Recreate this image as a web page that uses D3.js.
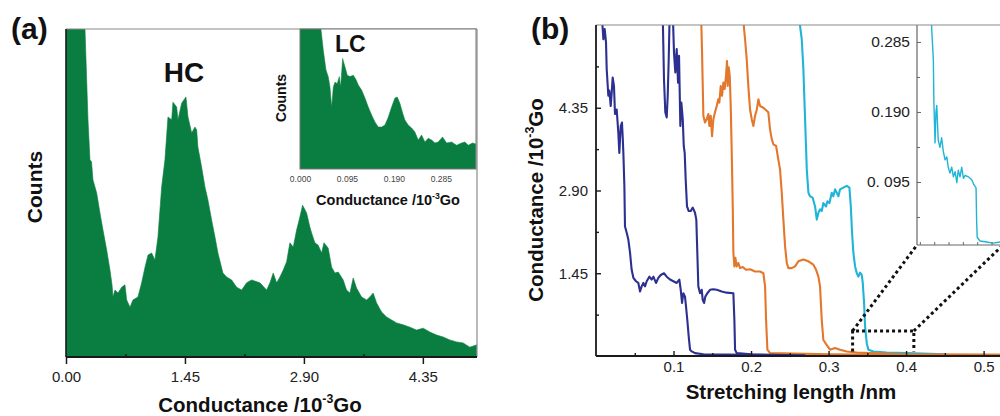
<!DOCTYPE html>
<html><head><meta charset="utf-8">
<script src="https://cdn.jsdelivr.net/npm/d3@7"></script>
<style>html,body{margin:0;padding:0;background:#fff}svg{display:block}</style>
</head><body>
<svg id="c" width="1000" height="416"></svg>
<script>
// ---------- DATA ----------
// Panel (a): main conductance histogram (Conductance /10^-3 Go, counts a.u.)
const histCond = [0,0.21,0.2315,0.268,0.292,0.311,0.329,0.374,0.414,0.451,0.496,0.536,0.561,0.573,0.597,0.634,0.679,0.719,0.740,0.780,0.816,0.877,0.922,0.963,1.000,1.044,1.084,1.121,1.166,1.206,1.243,1.288,1.304,1.349,1.365,1.410,1.462,1.487,1.532,1.572,1.593,1.608,1.653,1.694,1.730,1.775,1.816,1.852,1.913,1.958,2.019,2.080,2.141,2.202,2.263,2.364,2.446,2.486,2.526,2.568,2.608,2.648,2.689,2.729,2.770,2.811,2.851,2.884,2.933,2.973,2.994,3.034,3.074,3.116,3.144,3.196,3.238,3.278,3.318,3.379,3.420,3.461,3.501,3.542,3.603,3.664,3.704,3.744,3.786,3.847,3.908,3.969,4.030,4.110,4.192,4.273,4.354,4.435,4.517,4.597,4.679,4.761,4.841,4.923,5.008];
const histCounts = [1600,1300,1000,723,601,595,540,500,439,387,326,265,220,183,204,195,213,220,174,152,174,183,226,274,311,317,296,366,518,601,732,723,777,762,723,774,793,732,683,701,692,640,579,518,479,418,366,317,256,244,235,213,204,226,235,226,204,226,256,226,244,265,290,348,335,387,427,463,439,396,378,348,341,317,348,332,274,256,259,235,204,195,241,210,183,174,183,195,165,137,122,113,104,98,91,82,88,76,67,61,52,46,43,30,37];
// Panel (a) inset: low-conductance (LC) histogram
const lcCond = [0,0.037,0.0424,0.0471,0.0526,0.0573,0.0606,0.0640,0.0674,0.0707,0.0754,0.0795,0.0822,0.0862,0.0910,0.0957,0.1011,0.1078,0.1132,0.1179,0.1246,0.1314,0.1381,0.1449,0.1516,0.1583,0.1651,0.1718,0.1785,0.1853,0.1920,0.1967,0.2021,0.2076,0.2122,0.2189,0.2257,0.2324,0.2391,0.2459,0.2527,0.2593,0.2662,0.2729,0.2795,0.2884,0.2965,0.3066,0.3167,0.3268,0.3335,0.3402,0.3490,0.3557];
const lcCounts = [130,115,100,85,70.7,65.7,58.6,44.3,58.6,62,61,66,58.6,79,73,67,66,67,64,60,56.4,50.7,44.3,38.6,33.6,30,30,31.4,37,44.3,50.7,51.4,47,40,35,31.4,29.3,26.4,20.7,24.3,19.3,22,20.7,18.6,19.3,22.9,18.6,19.3,17,18.6,19.3,17,18.6,17.9];
// Panel (b): conductance traces [stretching length nm, conductance 10^-3 Go]
const trace1 = [[.0073,6.02],[.0095,5.55],[.0112,5.73],[.0129,5.50],[.0138,5.03],[.0159,4.56],[.0172,4.65],[.0190,4.38],[.0203,4.62],[.0215,4.88],[.0232,4.73],[.0245,4.24],[.0267,4.32],[.0288,3.91],[.0301,3.56],[.0319,4.03],[.0335,4.09],[.0344,3.85],[.0353,3.56],[.0366,2.98],[.0374,2.27],[.0396,2.16],[.0417,2.04],[.0439,1.81],[.0460,1.51],[.0482,1.37],[.0516,1.31],[.0546,1.28],[.0568,1.13],[.0589,1.22],[.0611,1.28],[.0632,1.22],[.0654,1.31],[.0688,1.39],[.0718,1.34],[.0740,1.39],[.0774,1.28],[.0804,1.37],[.0835,1.42],[.0877,1.45],[.0912,1.39],[.0955,1.34],[.0998,1.31],[.1041,1.28],[.1075,1.34],[.1093,1.16],[.1110,0.93],[.1127,1.10],[.1148,1.04],[.1161,0.87],[.1178,0.63],[.1196,0.34],[.1213,0.11],[.1235,0.08],[.1277,0.05],[.1385,0.03],[.20,0.02],[.27,0.01]];
const trace2 = [[.0860,6.03],[.0877,4.85],[.0894,4.27],[.0912,4.18],[.0925,4.56],[.0938,5.20],[.0951,6.03],[.0990,6.03],[.1006,5.32],[.1023,4.97],[.1041,5.38],[.1058,4.79],[.1071,5.26],[.1088,4.03],[.1101,4.44],[.1119,4.15],[.1132,3.68],[.1144,3.56],[.1157,3.09],[.1174,2.62],[.1196,2.54],[.1222,2.54],[.1248,2.60],[.1277,2.51],[.1294,2.39],[.1307,1.81],[.1320,1.22],[.1342,1.10],[.1364,1.16],[.1377,0.98],[.1394,0.93],[.1410,1.04],[.1436,1.10],[.1471,1.16],[.1514,1.17],[.1557,1.16],[.1622,1.13],[.1686,1.11],[.1772,1.10],[.1785,0.63],[.1794,0.11],[.1815,0.05],[.20,0.03],[.27,0.01]];
const trace3 = [[.1355,6.03],[.1368,5.32],[.1377,4.73],[.1385,4.21],[.1406,4.09],[.1428,4.15],[.1449,4.24],[.1462,4.03],[.1480,4.21],[.1497,3.85],[.1514,4.15],[.1535,4.27],[.1557,4.38],[.1578,4.50],[.1591,4.44],[.1609,4.73],[.1626,4.56],[.1643,4.79],[.1660,4.68],[.1677,4.91],[.1690,5.17],[.1699,4.73],[.1712,5.06],[.1725,4.91],[.1738,4.38],[.1751,3.56],[.1764,2.62],[.1772,1.81],[.1785,1.57],[.1798,1.72],[.1815,1.57],[.1836,1.63],[.1858,1.54],[.1893,1.56],[.1935,1.51],[.1987,1.52],[.2052,1.48],[.2116,1.48],[.2159,1.45],[.2181,1.22],[.2194,0.63],[.2211,0.11],[.2245,0.05],[.30,0.03],[.40,0.02],[.53,0.02]];
const trace4 = [[.1893,6.03],[.1910,5.73],[.1923,5.55],[.1944,5.20],[.1965,4.73],[.1987,4.32],[.2009,4.15],[.2030,4.03],[.2052,4.21],[.2074,4.32],[.2095,4.50],[.2116,4.38],[.2159,4.35],[.2223,4.27],[.2245,3.97],[.2267,3.80],[.2288,3.71],[.2323,3.68],[.2352,3.44],[.2374,3.27],[.2396,2.86],[.2417,2.39],[.2439,1.92],[.2461,1.63],[.2482,1.54],[.2525,1.54],[.2568,1.57],[.2611,1.66],[.2675,1.69],[.2740,1.66],[.2804,1.60],[.2839,1.51],[.2869,1.39],[.2890,1.22],[.2912,0.63],[.2933,0.28],[.2977,0.19],[.3019,0.11],[.3084,0.14],[.3148,0.11],[.3235,0.08],[.3364,0.06],[.40,0.03],[.53,0.02]];
const trace5 = [[.2624,6.03],[.2632,5.79],[.2654,5.55],[.2675,5.03],[.2697,4.15],[.2719,3.27],[.2740,2.86],[.2761,2.80],[.2796,2.77],[.2826,2.62],[.2848,2.39],[.2869,2.51],[.2890,2.57],[.2912,2.54],[.2933,2.68],[.2968,2.62],[.2985,2.71],[.3011,2.68],[.3041,2.86],[.3062,2.80],[.3084,2.92],[.3106,2.86],[.3127,2.80],[.3148,2.92],[.3191,2.95],[.3235,2.98],[.3269,2.95],[.3287,2.62],[.3303,2.16],[.3320,1.81],[.3342,1.57],[.3364,1.45],[.3385,1.39],[.3406,1.46],[.3428,1.42],[.3441,1.28],[.3458,0.93],[.3471,0.52],[.3493,0.22],[.3514,0.11],[.3579,0.08],[.3751,0.06],[.4009,0.05],[.45,0.03]];
// Panel (b) inset: magnified cyan trace
const insetTrace = [[.3341,0.322],[.3341,0.305],[.3347,0.261],[.3349,0.202],[.3353,0.148],[.3356,0.189],[.3359,0.199],[.3361,0.179],[.3364,0.152],[.3370,0.142],[.3376,0.155],[.3382,0.136],[.3388,0.125],[.3394,0.129],[.3399,0.115],[.3405,0.107],[.3411,0.115],[.3417,0.102],[.3423,0.109],[.3429,0.094],[.3434,0.111],[.3440,0.102],[.3446,0.115],[.3452,0.100],[.3458,0.104],[.3469,0.102],[.3481,0.098],[.3489,0.091],[.3496,0.087],[.3498,0.043],[.3500,0.020],[.3510,0.015],[.3533,0.0136],[.3556,0.012],[.3580,0.0136],[.3615,0.012]];
// Zoom box (nm, conductance)
const zoomBoxX = [0.331, 0.410];
const zoomBoxY = [0.08, 0.44];
// Ticks
const aTicks = [0, 1.45, 2.90, 4.35];
const aMinor = [0.725, 2.175, 3.625];
const lcTicks = [0, 0.095, 0.190, 0.285];
const bYTicks = [1.45, 2.90, 4.35];
const bYMinor = [0.725, 2.175, 3.625, 5.075];
const bXTicks = [0.1, 0.2, 0.3, 0.4, 0.5];
const bXMinor = [0.05, 0.15, 0.25, 0.35, 0.45];
const insYTicks = [0.285, 0.190, 0.095];
const insYLabels = ["0.285", "0.190", "0. 095"];
const insYMinor = [0.0475, 0.1425, 0.2375];
const insXTicks = [0.330, 0.335, 0.340, 0.345, 0.350, 0.355];

// ---------- DRAW ----------
const FONT = "'Liberation Sans', Arial, Helvetica, sans-serif";
const GREEN = "#0a7e41";
const NAVY = "#2c3090", ORANGE = "#e3772c", CYAN = "#1fb4d8";
const svg = d3.select("#c").attr("font-family", FONT);
const defs = svg.append("defs");

function condTitle(t, fs) {
  t.append("tspan").text("Conductance /10");
  t.append("tspan").attr("font-size", fs*0.6).attr("dy", -fs*0.42).text("-3");
  t.append("tspan").attr("dy", fs*0.42).text("Go");
}

// ===== Panel (a) =====
const A = {l:66, r:477, t:29, b:357};
const xA = d3.scaleLinear().domain([0, 5.01]).range([A.l, A.r]);
const yA = d3.scaleLinear().domain([0, 1000]).range([A.b, A.t]);
defs.append("clipPath").attr("id","clipA").append("rect")
  .attr("x",A.l).attr("y",A.t).attr("width",A.r-A.l).attr("height",A.b-A.t);
const histData = histCond.map((c,i)=>[c, histCounts[i]]);
svg.append("path").datum(histData).attr("clip-path","url(#clipA)")
  .attr("fill", GREEN).attr("stroke", GREEN).attr("stroke-width", 0.6)
  .attr("d", d3.area().x(d=>xA(d[0])).y0(A.b).y1(d=>yA(d[1])));

// frame
svg.append("line").attr("x1",A.l).attr("x2",A.r).attr("y1",A.t).attr("y2",A.t).attr("stroke","#8a8a8a").attr("stroke-width",1.2);
svg.append("line").attr("x1",A.r).attr("x2",A.r).attr("y1",A.t).attr("y2",A.b).attr("stroke","#8a8a8a").attr("stroke-width",1.2);
svg.append("line").attr("x1",A.l).attr("x2",A.l).attr("y1",A.t).attr("y2",A.b).attr("stroke","#1a1a1a").attr("stroke-width",1.6);

const axA = svg.append("g").attr("transform",`translate(0,${A.b})`)
  .call(d3.axisBottom(xA).tickValues(aTicks).tickSize(7).tickPadding(7).tickFormat(d3.format(".2f")));
axA.select(".domain").remove();
axA.selectAll("line").attr("stroke","#1a1a1a").attr("stroke-width",1.5);
axA.selectAll("text").attr("font-size",15).attr("font-family",FONT).attr("fill","#222");
const axAm = svg.append("g").attr("transform",`translate(0,${A.b})`)
  .call(d3.axisBottom(xA).tickValues(aMinor).tickSize(-3).tickFormat(""));
axAm.select(".domain").remove();
axAm.selectAll("line").attr("stroke","#1a1a1a").attr("stroke-width",1.5);
svg.append("line").attr("x1",A.l).attr("x2",A.r).attr("y1",A.b).attr("y2",A.b).attr("stroke","#1a1a1a").attr("stroke-width",1.8);

svg.append("text").attr("x",11).attr("y",39).attr("font-size",30).attr("font-weight","bold").attr("fill","#111").text("(a)");
svg.append("text").attr("x",184).attr("y",82).attr("text-anchor","middle").attr("font-size",28).attr("font-weight","bold").attr("fill","#111").text("HC");
svg.append("text").attr("transform","translate(42,187) rotate(-90)").attr("text-anchor","middle")
  .attr("font-size",21).attr("font-weight","bold").attr("fill","#111").text("Counts");
condTitle(svg.append("text").attr("x",260).attr("y",412).attr("text-anchor","middle")
  .attr("font-size",20.5).attr("font-weight","bold").attr("fill","#111"), 20.5);

// ----- inset (a) -----
const I = {l:300, r:476, t:29, b:169};
const xI = d3.scaleLinear().domain([0, 0.356]).range([I.l, I.r]);
const yI = d3.scaleLinear().domain([0, 100]).range([I.b, I.t]);
svg.append("rect").attr("x",I.l).attr("y",I.t).attr("width",I.r-I.l).attr("height",I.b-I.t).attr("fill","#fff");
defs.append("clipPath").attr("id","clipI").append("rect")
  .attr("x",I.l).attr("y",I.t).attr("width",I.r-I.l).attr("height",I.b-I.t);
const lcData = lcCond.map((c,i)=>[c, lcCounts[i]]);
svg.append("path").datum(lcData).attr("clip-path","url(#clipI)")
  .attr("fill", GREEN).attr("stroke", GREEN).attr("stroke-width", 0.5)
  .attr("d", d3.area().x(d=>xI(d[0])).y0(I.b).y1(d=>yI(d[1])));
svg.append("rect").attr("x",I.l).attr("y",I.t).attr("width",I.r-I.l).attr("height",I.b-I.t)
  .attr("fill","none").attr("stroke","#777").attr("stroke-width",1);
const axI = svg.append("g").attr("transform",`translate(0,${I.b})`)
  .call(d3.axisBottom(xI).tickValues(lcTicks).tickSize(0).tickPadding(7).tickFormat(d3.format(".3f")));
axI.select(".domain").remove();
axI.selectAll("text").attr("font-size",8.5).attr("font-family",FONT).attr("fill","#444");
svg.append("text").attr("x",335).attr("y",52).attr("font-size",23).attr("font-weight","bold").attr("fill","#111").text("LC");
svg.append("text").attr("transform","translate(286,98) rotate(-90)").attr("text-anchor","middle")
  .attr("font-size",14).attr("font-weight","bold").attr("fill","#111").text("Counts");
condTitle(svg.append("text").attr("x",388).attr("y",205).attr("text-anchor","middle")
  .attr("font-size",14.5).attr("font-weight","bold").attr("fill","#111"), 14.5);

// ===== Panel (b) =====
const B = {l:596, r:1003, t:25, b:356};
const xB = d3.scaleLinear().domain([0, 0.525]).range([B.l, B.r]);
const yB = d3.scaleLinear().domain([0, 5.8]).range([B.b, B.t]);
defs.append("clipPath").attr("id","clipB").append("rect")
  .attr("x",B.l).attr("y",B.t).attr("width",B.r-B.l).attr("height",B.b-B.t);
const lineB = d3.line().x(d=>xB(d[0])).y(d=>yB(d[1]));
const gT = svg.append("g").attr("clip-path","url(#clipB)");
[[trace5,CYAN],[trace4,ORANGE],[trace3,ORANGE],[trace2,NAVY],[trace1,NAVY]].forEach(([t,c])=>{
  gT.append("path").datum(t).attr("fill","none").attr("stroke",c).attr("stroke-width",2.1)
    .attr("stroke-linejoin","round").attr("d",lineB);
});

// zoom box + connectors
const bx0 = xB(zoomBoxX[0]), bx1 = xB(zoomBoxX[1]), by0 = yB(zoomBoxY[0]), by1 = yB(zoomBoxY[1]);
const dotted = g => g.attr("fill","none").attr("stroke","#111").attr("stroke-width",3).attr("stroke-dasharray","3,3");
svg.append("path").call(dotted).attr("d",`M${bx0},${by0}L${bx0},${by1}L${bx1},${by1}L${bx1},${by0}`);

// inset (b)
const J = {l:917, r:1003, t:25, b:245};
const xJ = d3.scaleLinear().domain([0.329, 0.359]).range([J.l, J.r]);
const yJ = d3.scaleLinear().domain([0.0095, 0.308]).range([J.b, J.t]);
svg.append("path").call(dotted).attr("d",`M${bx0},${by1}L${J.l},${J.b}`);
svg.append("path").call(dotted).attr("d",`M${bx1},${by1}L${J.r},${J.b}`);
svg.append("rect").attr("x",J.l).attr("y",J.t).attr("width",J.r-J.l).attr("height",J.b-J.t).attr("fill","#fff");
defs.append("clipPath").attr("id","clipJ").append("rect")
  .attr("x",J.l).attr("y",J.t).attr("width",J.r-J.l).attr("height",J.b-J.t);
svg.append("path").datum(insetTrace).attr("clip-path","url(#clipJ)").attr("fill","none")
  .attr("stroke",CYAN).attr("stroke-width",1.4).attr("stroke-linejoin","round")
  .attr("d", d3.line().x(d=>xJ(d[0])).y(d=>yJ(d[1])));
svg.append("line").attr("x1",J.l).attr("x2",J.l).attr("y1",J.t).attr("y2",J.b).attr("stroke","#666").attr("stroke-width",1.2);
svg.append("line").attr("x1",J.l).attr("x2",J.r).attr("y1",J.b).attr("y2",J.b).attr("stroke","#666").attr("stroke-width",1.2);
const axJy = svg.append("g").attr("transform",`translate(${J.l},0)`)
  .call(d3.axisLeft(yJ).tickValues(insYTicks).tickSize(-4).tickPadding(7).tickFormat((d,i)=>insYLabels[i]));
axJy.select(".domain").remove();
axJy.selectAll("line").attr("stroke","#666");
axJy.selectAll("text").attr("font-size",15.5).attr("font-family",FONT).attr("fill","#222");
const axJym = svg.append("g").attr("transform",`translate(${J.l},0)`)
  .call(d3.axisLeft(yJ).tickValues(insYMinor).tickSize(-3).tickFormat(""));
axJym.select(".domain").remove(); axJym.selectAll("line").attr("stroke","#666");
const axJx = svg.append("g").attr("transform",`translate(0,${J.b})`)
  .call(d3.axisBottom(xJ).tickValues(insXTicks).tickSize(-3).tickFormat(""));
axJx.select(".domain").remove(); axJx.selectAll("line").attr("stroke","#666");

// frame & axes (b)
svg.append("line").attr("x1",B.l).attr("x2",1000).attr("y1",B.t).attr("y2",B.t).attr("stroke","#8a8a8a").attr("stroke-width",1.2);
svg.append("line").attr("x1",B.l).attr("x2",B.l).attr("y1",B.t).attr("y2",B.b).attr("stroke","#1a1a1a").attr("stroke-width",1.8);
svg.append("line").attr("x1",B.l).attr("x2",B.r).attr("y1",B.b).attr("y2",B.b).attr("stroke","#1a1a1a").attr("stroke-width",1.8);
const axBy = svg.append("g").attr("transform",`translate(${B.l},0)`)
  .call(d3.axisLeft(yB).tickValues(bYTicks).tickSize(-5).tickPadding(8).tickFormat(d3.format(".2f")));
axBy.select(".domain").remove();
axBy.selectAll("line").attr("stroke","#1a1a1a").attr("stroke-width",1.4);
axBy.selectAll("text").attr("font-size",15).attr("font-family",FONT).attr("fill","#222");
const axBym = svg.append("g").attr("transform",`translate(${B.l},0)`)
  .call(d3.axisLeft(yB).tickValues(bYMinor).tickSize(-3).tickFormat(""));
axBym.select(".domain").remove(); axBym.selectAll("line").attr("stroke","#1a1a1a").attr("stroke-width",1.4);
const axBx = svg.append("g").attr("transform",`translate(0,${B.b})`)
  .call(d3.axisBottom(xB).tickValues(bXTicks).tickSize(-5).tickPadding(5.5).tickFormat(d3.format(".1f")));
axBx.select(".domain").remove();
axBx.selectAll("line").attr("stroke","#1a1a1a").attr("stroke-width",1.4);
axBx.selectAll("text").attr("font-size",15).attr("font-family",FONT).attr("fill","#222");
const axBxm = svg.append("g").attr("transform",`translate(0,${B.b})`)
  .call(d3.axisBottom(xB).tickValues(bXMinor).tickSize(-3).tickFormat(""));
axBxm.select(".domain").remove(); axBxm.selectAll("line").attr("stroke","#1a1a1a").attr("stroke-width",1.4);

svg.append("text").attr("x",531).attr("y",39).attr("font-size",30).attr("font-weight","bold").attr("fill","#111").text("(b)");
condTitle(svg.append("text").attr("transform","translate(542.5,200) rotate(-90)").attr("text-anchor","middle")
  .attr("font-size",20.5).attr("font-weight","bold").attr("fill","#111"), 20.5);
svg.append("text").attr("x",791).attr("y",399).attr("text-anchor","middle")
  .attr("font-size",20.5).attr("font-weight","bold").attr("fill","#111").text("Stretching length /nm");
</script>
</body></html>
